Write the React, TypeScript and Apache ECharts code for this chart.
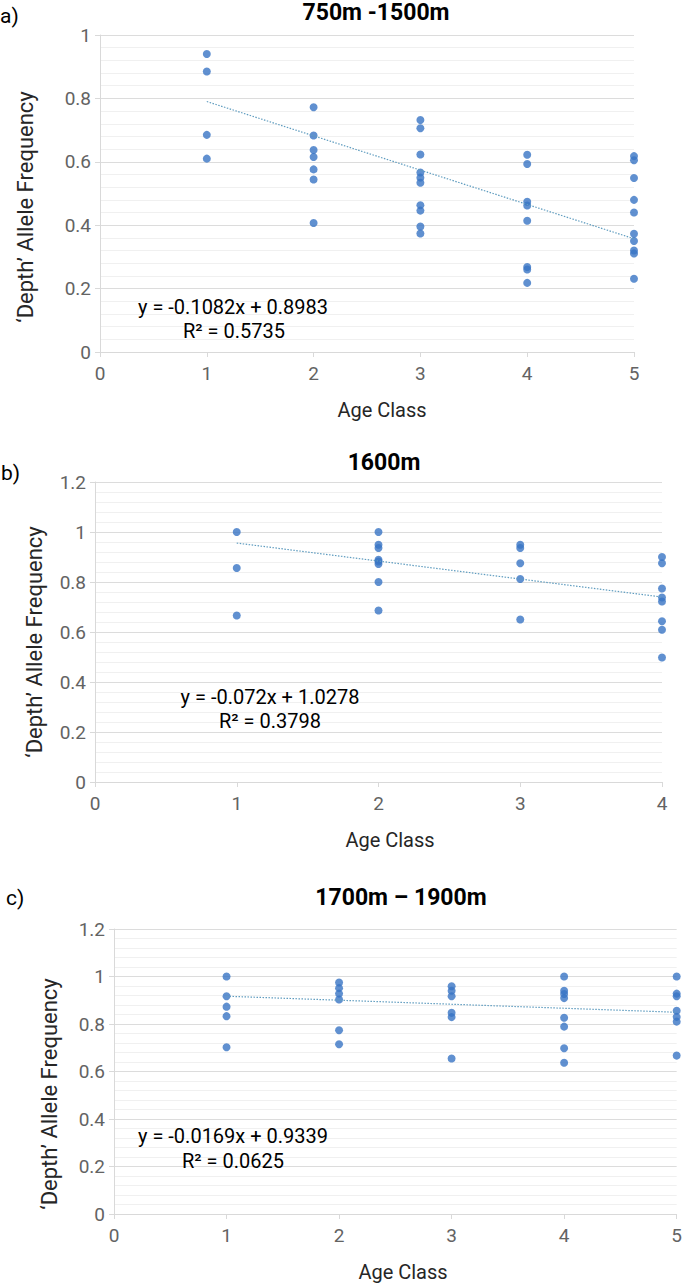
import React, { useEffect, useRef } from "react";
import * as echarts from "echarts";

// ---- Data ----
// Panel a) 750m -1500m
const aAge1 = [0.94, 0.885, 0.685, 0.61];
const aAge2 = [0.772, 0.683, 0.637, 0.615, 0.576, 0.544, 0.407];
const aAge3 = [0.732, 0.706, 0.623, 0.566, 0.55, 0.534, 0.463, 0.446, 0.396, 0.374];
const aAge4 = [0.622, 0.593, 0.474, 0.462, 0.414, 0.268, 0.26, 0.218];
const aAge5 = [0.618, 0.605, 0.549, 0.48, 0.44, 0.373, 0.35, 0.32, 0.311, 0.231];
const aSlope = -0.1082;
const aIntercept = 0.8983;
const aEq = "y = -0.1082x + 0.8983";
const aR2 = "R² = 0.5735";

// Panel b) 1600m
const bAge1 = [1.0, 0.856, 0.666];
const bAge2 = [1.0, 0.949, 0.936, 0.889, 0.882, 0.872, 0.8, 0.686];
const bAge3 = [0.949, 0.936, 0.875, 0.812, 0.65];
const bAge4 = [0.9, 0.875, 0.774, 0.738, 0.722, 0.643, 0.609, 0.498];
const bSlope = -0.072;
const bIntercept = 1.0278;
const bEq = "y = -0.072x + 1.0278";
const bR2 = "R² = 0.3798";

// Panel c) 1700m – 1900m
const cAge1 = [1.0, 0.917, 0.873, 0.833, 0.702];
const cAge2 = [0.975, 0.951, 0.928, 0.903, 0.774, 0.715];
const cAge3 = [0.959, 0.94, 0.917, 0.847, 0.829, 0.655];
const cAge4 = [1.0, 0.94, 0.926, 0.909, 0.826, 0.789, 0.698, 0.637];
const cAge5 = [1.0, 0.928, 0.917, 0.856, 0.83, 0.81, 0.667];
const cSlope = -0.0169;
const cIntercept = 0.9339;
const cEq = "y = -0.0169x + 0.9339";
const cR2 = "R² = 0.0625";

const xTicksA = [0, 1, 2, 3, 4, 5];
const xTicksB = [0, 1, 2, 3, 4];
const titles = ["750m -1500m", "1600m", "1700m – 1900m"];
const panelLabels = ["a)", "b)", "c)"];
const xName = "Age Class";
const yName = "‘Depth’ Allele Frequency";

const FONT = "Roboto, 'Liberation Sans', sans-serif";
const DOT = "#3874c4";
const TREND = "#5f9cbf";

function toPoints(groups: number[][]) {
  const pts: number[][] = [];
  groups.forEach((g, i) => g.forEach((v) => pts.push([i + 1, v])));
  return pts;
}

export default function App() {
  const ref = useRef<HTMLDivElement>(null);
  useEffect(() => {
    document.body.style.margin = "0";
    if (!ref.current) return;
    const chart = echarts.init(ref.current, null, { renderer: "svg" });

    const grids = [
      { left: 100, top: 35, width: 534, height: 317 },
      { left: 95, top: 482, width: 567, height: 300 },
      { left: 114, top: 929, width: 565, height: 285 },
    ];
    const xMax = [xTicksA[xTicksA.length - 1], xTicksB[xTicksB.length - 1], xTicksA[xTicksA.length - 1]];
    const yMax = [1, 1.2, 1.2];

    const xAxes = grids.map((_, i) => ({
      type: "value",
      gridIndex: i,
      min: 0,
      max: xMax[i],
      interval: 1,
      splitLine: { show: false },
      axisLine: { show: true, lineStyle: { color: "#d9d9d9", width: 1 } },
      axisTick: { show: true, length: 5, lineStyle: { color: "#d9d9d9" } },
      axisLabel: { color: "#636363", fontSize: 19, fontFamily: FONT, margin: 12 },
    }));
    const yAxes = grids.map((_, i) => ({
      type: "value",
      gridIndex: i,
      min: 0,
      max: yMax[i],
      interval: 0.2,
      splitLine: { show: true, lineStyle: { color: "#dcdcdc", width: 1 } },
      minorTick: { show: false, splitNumber: 5 },
      minorSplitLine: { show: true, lineStyle: { color: "#f0f0f0", width: 1 } },
      axisLine: { show: true, lineStyle: { color: "#d9d9d9", width: 1 } },
      axisTick: { show: true, length: 5, lineStyle: { color: "#d9d9d9" } },
      axisLabel: { color: "#636363", fontSize: 19, fontFamily: FONT, margin: 9 },
    }));

    const scatter = (groups: number[][], idx: number) => ({
      type: "scatter",
      xAxisIndex: idx,
      yAxisIndex: idx,
      symbol: "circle",
      symbolSize: 8,
      itemStyle: { color: DOT },
      data: toPoints(groups),
      z: 3,
    });
    const trend = (slope: number, intercept: number, x0: number, x1: number, idx: number) => ({
      type: "line",
      xAxisIndex: idx,
      yAxisIndex: idx,
      showSymbol: false,
      symbol: "none",
      lineStyle: { color: TREND, width: 1.2, type: [1.5, 1.5] },
      data: [
        [x0, slope * x0 + intercept],
        [x1, slope * x1 + intercept],
      ],
      z: 4,
    });

    const text = (t: string, x: number, y: number, size: number, opts: any = {}) => ({
      type: "text",
      x,
      y,
      rotation: opts.rotation || 0,
      style: {
        text: t,
        fontSize: size,
        fontFamily: FONT,
        fontWeight: opts.bold ? "bold" : "normal",
        fill: opts.fill || "#000",
        align: opts.align || "center",
        verticalAlign: "middle",
      },
      z: 10,
    });

    const graphics = [
      text(panelLabels[0], 0, 16, 21, { align: "left" }),
      text(panelLabels[1], 1, 473, 21, { align: "left" }),
      text(panelLabels[2], 6, 898, 21, { align: "left" }),
      text(titles[0], 376, 12, 23, { bold: true }),
      text(titles[1], 384, 462, 23, { bold: true }),
      text(titles[2], 401, 897, 23, { bold: true }),
      text(yName, 25, 207, 22, { rotation: Math.PI / 2, fill: "#262626" }),
      text(yName, 34, 642, 22, { rotation: Math.PI / 2, fill: "#262626" }),
      text(yName, 49, 1094, 22, { rotation: Math.PI / 2, fill: "#262626" }),
      text(xName, 382, 410, 20, { fill: "#262626" }),
      text(xName, 390, 840, 20, { fill: "#262626" }),
      text(xName, 403, 1272, 20, { fill: "#262626" }),
      text(aEq, 233, 307, 20),
      text(aR2, 234, 331, 20),
      text(bEq, 270, 697, 20),
      text(bR2, 270, 721, 20),
      text(cEq, 233, 1136, 20),
      text(cR2, 233, 1161, 20),
    ];

    chart.setOption({
      animation: false,
      backgroundColor: "#ffffff",
      grid: grids,
      xAxis: xAxes,
      yAxis: yAxes,
      series: [
        scatter([aAge1, aAge2, aAge3, aAge4, aAge5], 0),
        trend(aSlope, aIntercept, 1, 5, 0),
        scatter([bAge1, bAge2, bAge3, bAge4], 1),
        trend(bSlope, bIntercept, 1, 4, 1),
        scatter([cAge1, cAge2, cAge3, cAge4, cAge5], 2),
        trend(cSlope, cIntercept, 1, 5, 2),
      ],
      graphic: graphics,
    });
    return () => chart.dispose();
  }, []);
  return <div ref={ref} style={{ width: 685, height: 1284 }} />;
}
